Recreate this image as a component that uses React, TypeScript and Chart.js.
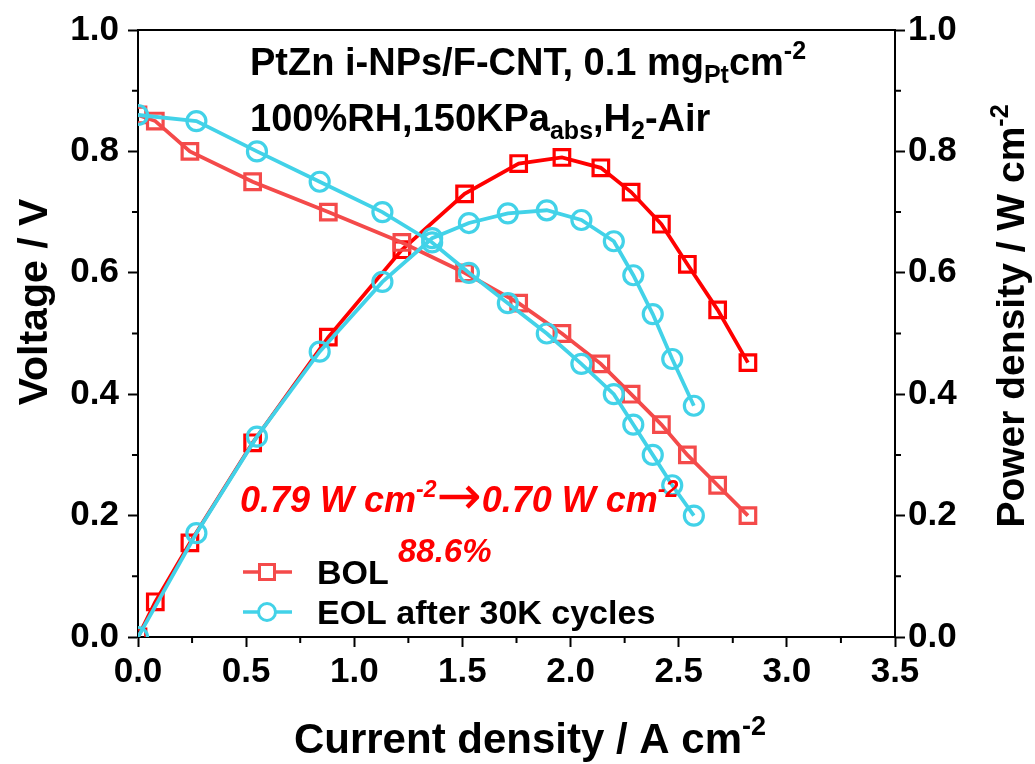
import React, { useEffect, useRef } from 'react';
import { Chart, registerables } from 'chart.js';

Chart.register(...registerables);

// ---- data ----
const bolCurrent = [0, 0.08, 0.24, 0.53, 0.88, 1.22, 1.51, 1.76, 1.96, 2.14, 2.28, 2.42, 2.54, 2.68, 2.82];
const bolVoltage = [0.86, 0.85, 0.8, 0.75, 0.7, 0.65, 0.6, 0.55, 0.5, 0.45, 0.4, 0.35, 0.3, 0.25, 0.2];
const bolPower = [0, 0.058, 0.155, 0.32, 0.494, 0.638, 0.73, 0.78, 0.79, 0.773, 0.733, 0.68, 0.614, 0.539, 0.452];

const eolCurrent = [0, 0.27, 0.55, 0.84, 1.13, 1.36, 1.53, 1.71, 1.89, 2.05, 2.2, 2.29, 2.38, 2.47, 2.57];
const eolVoltage = [0.86, 0.85, 0.8, 0.75, 0.7, 0.65, 0.6, 0.55, 0.5, 0.45, 0.4, 0.35, 0.3, 0.25, 0.2];
const eolPower = [0, 0.171, 0.33, 0.47, 0.585, 0.657, 0.682, 0.698, 0.703, 0.687, 0.652, 0.596, 0.532, 0.458, 0.381];

const legendLabels = ['BOL', 'EOL after 30K cycles'];
const xTickValues = [0, 0.5, 1.0, 1.5, 2.0, 2.5, 3.0, 3.5];
const yTickValues = [0, 0.2, 0.4, 0.6, 0.8, 1.0];

const FONT = '"Liberation Sans", Arial, Helvetica, sans-serif';
const ARROW_FONT = '"DejaVu Sans", "Noto Sans CJK SC", sans-serif';
const RED_LIGHT = '#F44A4A';
const RED = '#FF0000';
const CYAN = '#42D2E8';

type Seg = { t: string; s?: 'sub' | 'sup'; f?: string; scale?: number; st?: string; dy?: number };

function segFont(size: number, style: string, seg: Seg) {
  let sz = seg.s ? Math.round(size * 0.65) : size;
  if (seg.scale) sz = Math.round(sz * seg.scale);
  return `${seg.st || style} ${sz}px ${seg.f || FONT}`;
}

function drawRich(
  ctx: CanvasRenderingContext2D,
  segs: Seg[],
  x: number,
  y: number,
  size: number,
  style: string,
  color: string,
  align: 'left' | 'center'
) {
  ctx.textBaseline = 'alphabetic';
  ctx.textAlign = 'left';
  ctx.fillStyle = color;
  const widths = segs.map((seg) => {
    ctx.font = segFont(size, style, seg);
    return ctx.measureText(seg.t).width;
  });
  const total = widths.reduce((a, b) => a + b, 0);
  let cx = align === 'center' ? x - total / 2 : x;
  segs.forEach((seg, i) => {
    ctx.font = segFont(size, style, seg);
    let dy = seg.s === 'sub' ? size * 0.22 : seg.s === 'sup' ? -size * 0.42 : 0;
    if (seg.dy) dy += seg.dy;
    ctx.fillText(seg.t, cx, y + dy);
    cx += widths[i];
  });
}

const decorPlugin = {
  id: 'decor',
  afterDraw(chart: any) {
    const ctx: CanvasRenderingContext2D = chart.ctx;
    const { left, right, top, bottom } = chart.chartArea;
    const xs = chart.scales.x;
    const ys = chart.scales.y;
    const y1s = chart.scales.y1;
    ctx.save();
    // top border
    ctx.strokeStyle = '#000';
    ctx.lineWidth = 2;
    ctx.beginPath();
    ctx.moveTo(left - 1, top);
    ctx.lineTo(right + 1, top);
    ctx.stroke();
    // minor ticks
    ctx.beginPath();
    for (let i = 0; i < xTickValues.length - 1; i++) {
      const v = (xTickValues[i] + xTickValues[i + 1]) / 2;
      const px = xs.getPixelForValue(v);
      ctx.moveTo(px, bottom);
      ctx.lineTo(px, bottom + 6);
    }
    for (let i = 0; i < yTickValues.length - 1; i++) {
      const v = (yTickValues[i] + yTickValues[i + 1]) / 2;
      const py = ys.getPixelForValue(v);
      ctx.moveTo(left, py);
      ctx.lineTo(left - 6, py);
      const py1 = y1s.getPixelForValue(v);
      ctx.moveTo(right, py1);
      ctx.lineTo(right + 6, py1);
    }
    ctx.stroke();

    // axis titles
    drawRich(ctx, [{ t: 'Current density / A cm' }, { t: '-2', s: 'sup' }], 530, 753, 42, 'bold', '#000', 'center');

    ctx.save();
    ctx.translate(47, 302);
    ctx.rotate(-Math.PI / 2);
    drawRich(ctx, [{ t: 'Voltage / V' }], 0, 0, 41, 'bold', '#000', 'center');
    ctx.restore();

    ctx.save();
    ctx.translate(1024, 316);
    ctx.rotate(-Math.PI / 2);
    drawRich(ctx, [{ t: 'Power density / W cm' }, { t: '-2', s: 'sup' }], 0, 0, 39, 'bold', '#000', 'center');
    ctx.restore();

    // condition text
    drawRich(
      ctx,
      [{ t: 'PtZn i-NPs/F-CNT, 0.1 mg' }, { t: 'Pt', s: 'sub' }, { t: 'cm' }, { t: '-2', s: 'sup' }],
      250, 75, 38, 'bold', '#000', 'left'
    );
    drawRich(
      ctx,
      [{ t: '100%RH,150KPa' }, { t: 'abs', s: 'sub' }, { t: ',H' }, { t: '2', s: 'sub' }, { t: '-Air' }],
      250, 131, 38, 'bold', '#000', 'left'
    );

    // annotation
    drawRich(
      ctx,
      [
        { t: '0.79 W cm' },
        { t: '-2', s: 'sup' },
        { t: '\u2192', f: ARROW_FONT, st: 'normal', scale: 1.5, dy: 2 },
        { t: '0.70 W cm' },
        { t: '-2', s: 'sup' },
      ],
      240, 512, 36, 'italic bold', RED, 'left'
    );
    drawRich(ctx, [{ t: '88.6%' }], 398, 562, 33, 'italic bold', RED, 'left');

    // legend
    const legendY = [572, 612];
    const colors = [RED_LIGHT, CYAN];
    legendLabels.forEach((lab, i) => {
      const ly = legendY[i];
      ctx.strokeStyle = colors[i];
      ctx.lineWidth = 3.5;
      ctx.beginPath();
      ctx.moveTo(243, ly);
      ctx.lineTo(292, ly);
      ctx.stroke();
      ctx.fillStyle = '#fff';
      ctx.lineWidth = 3;
      ctx.beginPath();
      if (i === 0) {
        ctx.rect(267 - 7.5, ly - 7.5, 15, 15);
      } else {
        ctx.arc(267, ly, 8.5, 0, Math.PI * 2);
      }
      ctx.fill();
      ctx.stroke();
      drawRich(ctx, [{ t: lab }], 317, ly + 12, 34, 'bold', '#000', 'left');
    });
    ctx.restore();
  },
};

export default function App() {
  const ref = useRef<HTMLCanvasElement | null>(null);

  useEffect(() => {
    document.body.style.margin = '0';
    const canvas = ref.current;
    if (!canvas) return;
    const pts = (xs: number[], ys: number[]) => xs.map((x, i) => ({ x, y: ys[i] }));
    const tickFont = { family: FONT, size: 35, weight: 'bold' as const };
    const grid = {
      drawOnChartArea: false,
      drawTicks: true,
      tickLength: 10,
      tickWidth: 2,
      tickColor: '#000',
      color: '#000',
    };
    const mk = (label: string, xs: number[], ys: number[], axis: string, color: string, style: string, radius: number, order: number) => ({
      label,
      data: pts(xs, ys),
      yAxisID: axis,
      borderColor: color,
      backgroundColor: '#fff',
      borderWidth: 3.8,
      pointStyle: style,
      pointRadius: radius,
      pointBorderWidth: 3.2,
      pointBorderColor: color,
      pointBackgroundColor: 'rgba(255,255,255,0)',
      tension: 0,
      order,
    });
    const chart = new Chart(canvas, {
      type: 'line',
      data: {
        datasets: [
          mk('BOL voltage', bolCurrent, bolVoltage, 'y', RED_LIGHT, 'rect', 11, 2),
          mk('BOL power', bolCurrent, bolPower, 'y1', RED, 'rect', 11, 2),
          mk('EOL voltage', eolCurrent, eolVoltage, 'y', CYAN, 'circle', 9.5, 1),
          mk('EOL power', eolCurrent, eolPower, 'y1', CYAN, 'circle', 9.5, 1),
        ],
      },
      options: {
        responsive: false,
        animation: false,
        layout: { padding: { top: 30, left: 0, right: 0, bottom: 0 } },
        plugins: {
          legend: { display: false },
          tooltip: { enabled: false },
          title: { display: false },
        },
        scales: {
          x: {
            type: 'linear',
            min: 0,
            max: 3.5,
            afterBuildTicks: (s: any) => {
              s.ticks = xTickValues.map((v) => ({ value: v }));
            },
            afterFit: (s: any) => {
              s.height = 127;
            },
            ticks: {
              font: tickFont,
              color: '#000',
              padding: 4,
              maxRotation: 0,
              callback: (v: any) => Number(v).toFixed(1),
            },
            grid,
            border: { display: true, color: '#000', width: 2 },
          },
          y: {
            type: 'linear',
            position: 'left',
            min: 0,
            max: 1,
            afterBuildTicks: (s: any) => {
              s.ticks = yTickValues.map((v) => ({ value: v }));
            },
            afterFit: (s: any) => {
              s.width = 138;
            },
            ticks: {
              font: tickFont,
              color: '#000',
              padding: 9,
              callback: (v: any) => Number(v).toFixed(1),
            },
            grid,
            border: { display: true, color: '#000', width: 2 },
          },
          y1: {
            type: 'linear',
            position: 'right',
            min: 0,
            max: 1,
            afterBuildTicks: (s: any) => {
              s.ticks = yTickValues.map((v) => ({ value: v }));
            },
            afterFit: (s: any) => {
              s.width = 140;
            },
            ticks: {
              font: tickFont,
              color: '#000',
              padding: 3,
              callback: (v: any) => Number(v).toFixed(1),
            },
            grid,
            border: { display: true, color: '#000', width: 2 },
          },
        },
      },
      plugins: [decorPlugin],
    } as any);
    return () => chart.destroy();
  }, []);

  return (
    <div style={{ position: 'absolute', left: 0, top: 0, width: 1035, height: 764, background: '#fff' }}>
      <canvas ref={ref} width={1035} height={764} style={{ display: 'block' }} />
    </div>
  );
}
